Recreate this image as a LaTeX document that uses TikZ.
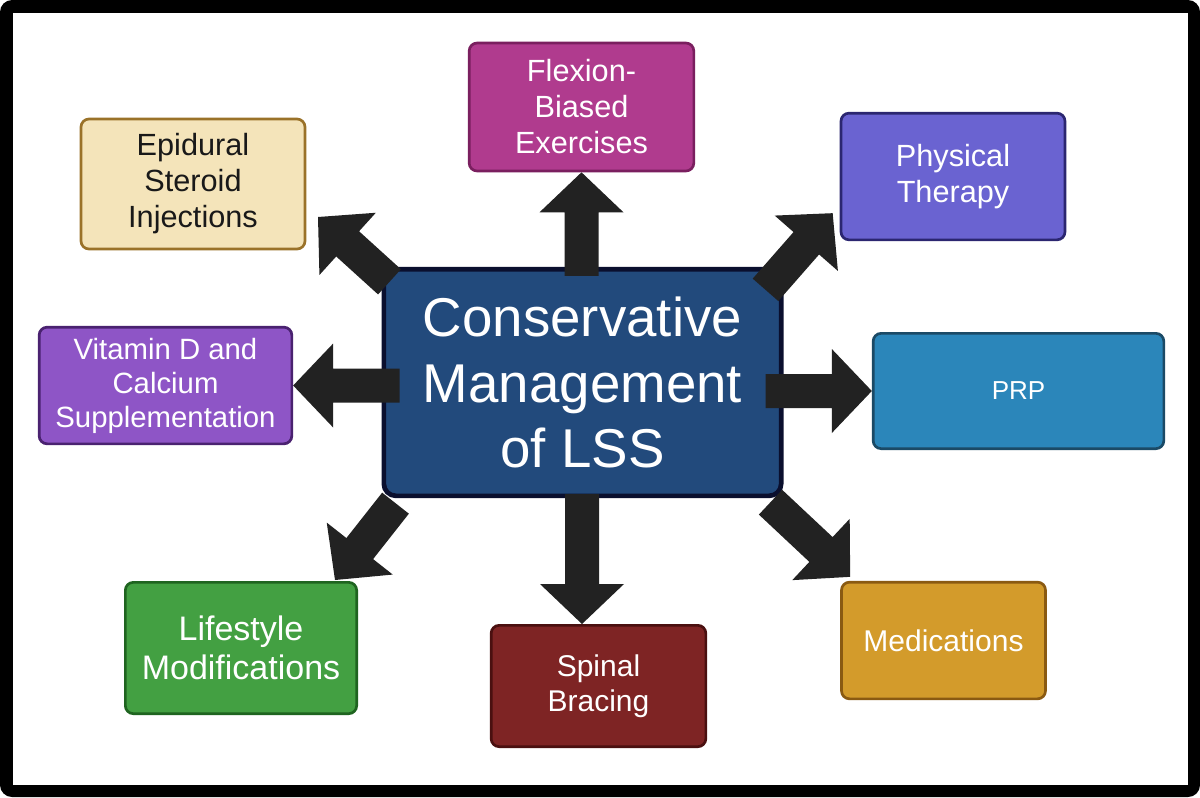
\documentclass[tikz,border=0pt]{standalone}
\usepackage{fontspec}
\setmainfont{Liberation Sans}
\usetikzlibrary{calc}
\definecolor{arrowgray}{HTML}{222222}
\definecolor{epifill}{HTML}{F4E4BA}
\definecolor{epidraw}{HTML}{9A7229}
\definecolor{flexfill}{HTML}{B03B8E}
\definecolor{flexdraw}{HTML}{7A1F5F}
\definecolor{physfill}{HTML}{6A63D1}
\definecolor{physdraw}{HTML}{2B2670}
\definecolor{vitfill}{HTML}{8E55C6}
\definecolor{vitdraw}{HTML}{4A2270}
\definecolor{cenfill}{HTML}{224A7C}
\definecolor{cendraw}{HTML}{0A0F2E}
\definecolor{prpfill}{HTML}{2B86BA}
\definecolor{prpdraw}{HTML}{1B4A66}
\definecolor{lifefill}{HTML}{43A042}
\definecolor{lifedraw}{HTML}{1F6420}
\definecolor{bracefill}{HTML}{7E2424}
\definecolor{bracedraw}{HTML}{4A1010}
\definecolor{medfill}{HTML}{D39B2B}
\definecolor{meddraw}{HTML}{8A5A12}
\tikzset{
  box/.style={rectangle, rounded corners=6pt, line width=2pt, inner sep=0pt,
    align=center, text=white, font=\fontsize{23}{27}\selectfont},
}
\def\arrShaft{12.75pt}
\def\arrHead{31.5pt}
\def\arrLen{30pt}
\newcommand\drawBlockArrow[2]{%
  \coordinate (bah) at ($(#2)!\arrLen!(#1)$);
  \fill[arrowgray] ($(#1)!\arrShaft!90:(#2)$) -- ($(bah)!\arrShaft!90:(#2)$)
    -- ($(bah)!\arrHead!90:(#2)$) -- (#2) -- ($(bah)!\arrHead!-90:(#2)$)
    -- ($(bah)!\arrShaft!-90:(#2)$) -- ($(#1)!\arrShaft!-90:(#2)$) -- cycle;
}
\begin{document}
\begin{tikzpicture}[x=0.75pt,y=-0.75pt]
\useasboundingbox (0,0) rectangle (1200,797);
\fill[white] (0,0) rectangle (1200,797);
\fill[black, rounded corners=9pt] (0,0) rectangle (1200,797);
\fill[white] (12.5,12.5) rectangle (1188,785);

% boxes
\node[box, fill=epifill, draw=epidraw, text=black!90, minimum width=168pt, minimum height=97.5pt] (epi) at (193,184) {Epidural\\Steroid\\Injections};
\node[box, fill=flexfill, draw=flexdraw, minimum width=168.5pt, minimum height=96pt] (flex) at (581.5,107) {Flexion-\\Biased\\Exercises};
\node[box, fill=physfill, draw=physdraw, minimum width=168pt, minimum height=95pt] (phys) at (953,176.5) {Physical\\Therapy};
\node[box, fill=vitfill, draw=vitdraw, minimum width=189.5pt, minimum height=87.5pt, font=\fontsize{22}{25.5}\selectfont] (vit) at (165.5,385.5) {Vitamin D and\\Calcium\\Supplementation};
\node[box, fill=prpfill, draw=prpdraw, minimum width=218pt, minimum height=86.5pt, font=\fontsize{19.5}{23}\selectfont] (prp) at (1018.5,391) {PRP};
\node[box, fill=lifefill, draw=lifedraw, minimum width=173.5pt, minimum height=98.5pt, font=\fontsize{25.5}{29}\selectfont] (life) at (241,648) {Lifestyle\\Modifications};
\node[box, fill=bracefill, draw=bracedraw, minimum width=161pt, minimum height=91pt, font=\fontsize{22.5}{26}\selectfont] (brace) at (598.5,686) {Spinal\\Bracing};
\node[box, fill=medfill, draw=meddraw, minimum width=153pt, minimum height=87.5pt, font=\fontsize{22.5}{26}\selectfont] (med) at (943.5,640.5) {Medications};
\node[box, fill=cenfill, draw=cendraw, line width=3.5pt, rounded corners=9pt, minimum width=298pt, minimum height=170pt, font=\fontsize{41}{49}\selectfont] (center) at (582.5,382.5) {Conservative\\Management\\of LSS};

% arrow end points
\coordinate (s-up) at ($(center.north)+(-1,9)$);
\coordinate (s-down) at ($(center.south)+(-0.5,-4)$);
\coordinate (t-down) at (s-down |- brace.north);
\coordinate (s-right) at ($(center.east |- prp.west)+(-18,0)$);
\coordinate (s-left) at ($(center.west |- vit.east)+(18,0)$);
\coordinate (s-ul) at ($(center.north west)+(8,15)$);
\coordinate (t-ul) at (318,217);
\coordinate (s-ur) at ($(center.north east)+(-18,23)$);
\coordinate (t-ur) at ($(phys.south west)+(-7,-28)$);
\coordinate (s-lr) at ($(center.south east)+(-13,4)$);
\coordinate (t-lr) at ($(med.north west)+(10,-4)$);
\coordinate (s-ll) at ($(center.south west)+(14,5)$);
\coordinate (t-ll) at ($(life.north east)+(-23,-1)$);

\drawBlockArrow{s-up}{flex.south}
\drawBlockArrow{s-down}{t-down}
\drawBlockArrow{s-right}{prp.west}
\drawBlockArrow{s-left}{vit.east}
\drawBlockArrow{s-ul}{t-ul}
\drawBlockArrow{s-ur}{t-ur}
\drawBlockArrow{s-lr}{t-lr}
\drawBlockArrow{s-ll}{t-ll}
\end{tikzpicture}
\end{document}
